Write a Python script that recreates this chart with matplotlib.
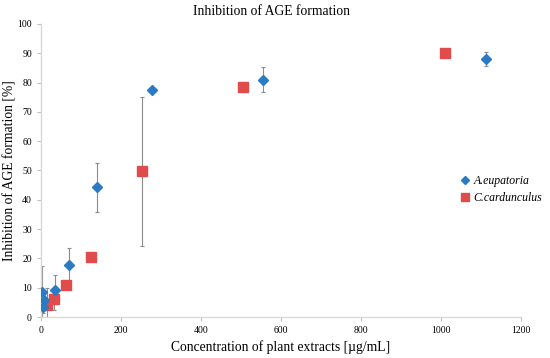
import matplotlib.pyplot as plt

plt.rcParams["font.family"] = ["Liberation Serif", "DejaVu Serif"]

# A. eupatoria
conc_a = [2.2, 4.3, 8.7, 34.75, 69.5, 139, 278, 556, 1112]
inh_a = [8.5, 3.5, 5.8, 9.3, 17.7, 44.2, 77.6, 81.0, 88.0]
err_a = [9.0, 2.0, 3.0, 5.0, 5.7, 8.3, 0.5, 4.2, 2.5]

# C. cardunculus
conc_c = [15.8, 31.6, 63.1, 126.25, 252.5, 505, 1010]
inh_c = [4.0, 6.0, 11.0, 20.6, 49.8, 78.6, 90.1]
err_c = [6.0, 3.5, 1.0, 1.0, 25.4, 0.5, 0.5]

blue = "#2a7bc4"
red = "#e04b4b"

fig = plt.figure(figsize=(5.5, 3.58), dpi=100)
ax = fig.add_axes([0.0745, 0.1145, 0.8725, 0.8185])

ax.errorbar(conc_a, inh_a, yerr=err_a, fmt="none", ecolor="#8c8c8c",
            elinewidth=0.8, capsize=1.5, capthick=0.8, zorder=1)
ax.errorbar(conc_c, inh_c, yerr=err_c, fmt="none", ecolor="#8c8c8c",
            elinewidth=0.8, capsize=1.5, capthick=0.8, zorder=1)
ax.plot(conc_a, inh_a, linestyle="none", marker="D", markersize=5.5,
        color=blue, label="A.eupatoria", zorder=3)
ax.plot(conc_c, inh_c, linestyle="none", marker="s", markersize=6.5,
        color=red, label="C.cardunculus", zorder=2)

ax.set_xlim(0, 1200)
ax.set_ylim(0, 100)
ax.set_xticks(range(0, 1201, 200))
ax.set_yticks(range(0, 101, 10))
ax.tick_params(labelsize=7, color="#bfbfbf", length=3, width=0.8)
for s in ["top", "right"]:
    ax.spines[s].set_visible(False)
for s in ["left", "bottom"]:
    ax.spines[s].set_color("#d9d9d9")
    ax.spines[s].set_linewidth(1.0)

fig.text(0.493, 0.969, "Inhibition of AGE formation", fontsize=9.8,
         ha="center", va="center")
ax.set_xlabel("Concentration of plant extracts [\u00b5g/mL]", fontsize=9.8, labelpad=4)
ax.set_ylabel("Inhibition of AGE formation [%]", fontsize=9.8)
ax.yaxis.set_label_coords(-0.052, 0.5)

ax.legend(loc="upper left", bbox_to_anchor=(0.835, 0.512),
          bbox_transform=fig.transFigure, frameon=False,
          prop={"style": "italic", "size": 8.5}, handletextpad=0.2,
          handlelength=1.0, borderaxespad=0, borderpad=0,
          labelspacing=0.45, markerscale=0.8)

fig.savefig("out.png", dpi=100)
